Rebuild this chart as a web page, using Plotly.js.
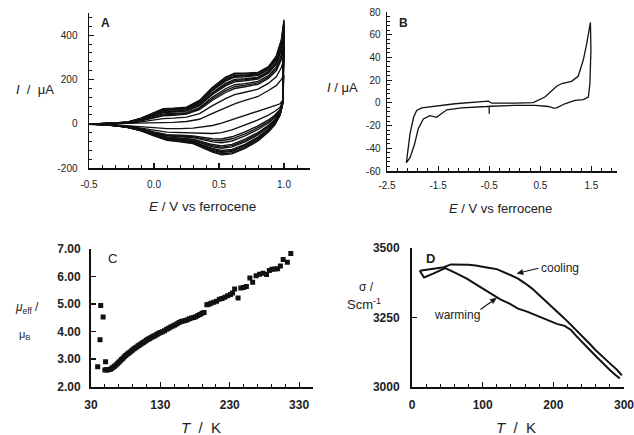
<!DOCTYPE html>
<html><head><meta charset="utf-8">
<script src="https://cdn.plot.ly/plotly-3.0.1.min.js"></script>
<style>html,body{margin:0;padding:0;background:#fff}#chart{width:634px;height:435px}</style>
</head><body><div id="chart"></div>
<script>
// ---------- Panel A: multi-cycle CV (E / V vs ferrocene, I / uA) ----------
const E_A = [-0.5,-0.4,-0.3,-0.2,-0.1,0.0,0.07,0.15,0.25,0.35,0.45,0.55,0.62,0.7,0.8,0.88,0.94,0.98,1.0,
             0.99,0.97,0.93,0.88,0.8,0.7,0.6,0.52,0.45,0.37,0.3,0.2,0.1,0.0,-0.1,-0.2,-0.3,-0.4,-0.5];
const cyc01 = [-2,-1,0,0,1,3,4,6,10,20,47,72,90,105,123,150,172,200,220, 105,90,82,72,58,38,18,3,-8,-16,-20,-22,-22,-18,-13,-9,-6,-4,-3];
const cyc02 = [-2,-1,1,2,8,17,23,25,30,46,82,113,131,142,156,182,212,254,295, 100,74,56,39,17,-7,-28,-40,-44,-43,-41,-40,-38,-29,-19,-11,-7,-4,-3];
const cyc03 = [-2,-1,1,4,13,27,36,38,43,63,106,141,159,167,178,204,239,290,345, 98,64,39,17,-10,-37,-59,-69,-68,-61,-55,-52,-49,-37,-23,-13,-7,-4,-3];
const cyc04 = [-2,0,1,4,14,29,40,42,46,68,113,149,167,174,184,210,246,301,360, 97,61,33,10,-18,-46,-68,-77,-75,-66,-59,-56,-52,-39,-24,-13,-7,-4,-2];
const cyc05 = [-2,0,1,5,16,32,44,46,50,73,120,158,176,181,191,217,255,312,375, 96,58,28,4,-26,-55,-78,-86,-82,-72,-63,-59,-55,-41,-25,-14,-7,-4,-2];
const cyc06 = [-2,0,1,6,18,37,50,52,57,81,132,171,189,194,202,228,268,330,400, 94,53,19,-7,-40,-70,-93,-100,-94,-81,-70,-65,-60,-45,-27,-15,-7,-4,-2];
const cyc07 = [-2,0,2,6,19,39,53,55,59,85,137,177,195,199,206,232,273,337,410, 94,50,16,-12,-45,-76,-99,-106,-99,-84,-73,-68,-62,-46,-27,-15,-8,-4,-2];
const cyc08 = [-2,0,2,6,20,41,55,57,62,88,141,182,200,203,210,236,278,344,420, 93,48,12,-16,-51,-82,-105,-111,-104,-88,-76,-70,-64,-48,-28,-15,-8,-4,-2];
const cyc09 = [-2,0,2,7,22,44,60,62,67,94,150,192,210,212,218,244,288,357,438, 92,45,6,-24,-60,-93,-116,-121,-112,-94,-81,-74,-68,-50,-30,-16,-8,-4,-2];
const cyc10 = [-2,0,2,7,23,45,62,64,69,97,153,196,214,216,221,247,292,362,445, 92,43,4,-27,-64,-97,-121,-126,-116,-97,-83,-76,-70,-51,-30,-16,-8,-4,-2];
const cyc11 = [-2,0,2,7,23,47,64,66,71,99,157,200,218,219,224,250,296,367,453, 91,42,1,-30,-69,-102,-125,-130,-120,-100,-85,-78,-71,-52,-31,-16,-8,-4,-2];
const cyc12 = [-2,0,2,8,24,49,66,68,73,103,162,206,224,224,229,255,301,375,463, 90,40,-2,-35,-74,-108,-131,-136,-124,-103,-88,-80,-73,-54,-31,-17,-8,-4,-2];
const cyc13 = [-2,0,2,8,25,50,68,70,75,105,165,210,228,228,232,258,305,380,470, 90,38,-5,-38,-78,-112,-136,-140,-128,-106,-90,-82,-75,-55,-32,-17,-8,-4,-2];
const cyclesA = [cyc01,cyc02,cyc03,cyc04,cyc05,cyc06,cyc07,cyc08,cyc09,cyc10,cyc11,cyc12,cyc13];
const tickA_x = [-0.5,0,0.5,1.0], tickA_xt = ['-0.5','0.0','0.5','1.0'];
const tickA_y = [-200,0,200,400], tickA_yt = ['-200','0','200','400'];

// ---------- Panel B: single CV ----------
const E_B = [-0.50,-0.50,-0.55,-1.04,-1.33,-1.43,-1.53,-1.66,-1.79,-1.89,-1.96,-2.05,-2.12,-2.10,-2.05,-1.98,-1.92,-1.82,-1.56,-1.17,-0.52,-0.45,0.0,0.36,0.59,0.82,0.92,1.11,1.24,1.34,1.41,1.47,1.48,1.49,1.47,1.44,1.34,1.18,0.98,0.82,0.76,0.66,0.40,0.0,-0.45,-0.50];
const I_B = [-9.5,-3.0,-3.2,-4.4,-6.1,-9.7,-12.7,-11.2,-14.1,-23.0,-36.3,-48.2,-52.7,-45.2,-27.4,-12.7,-6.7,-4.4,-3.2,-0.8,1.5,-0.3,-0.2,0.2,5.1,14.6,17.0,19.0,23.4,37.7,52.5,69.6,70.8,46.5,17.0,5.1,2.8,2.1,-0.8,-4.4,-4.7,-3.2,-2.3,-2.3,-2.6,-3.0];
const tickB_x = [-2.5,-1.5,-0.5,0.5,1.5], tickB_xt = ['-2.5','-1.5','-0.5','0.5','1.5'];
const tickB_y = [-60,-40,-20,0,20,40,60,80], tickB_yt = ['-60','-40','-20','0','20','40','60','80'];

// ---------- Panel C: mu_eff vs T ----------
const T_C = [39.6,43,44,47.5,51,
  50,52,54,56,58,60,62,64,66,68,70,72,74,76,78,80,82,84,86,88,90,92,94,96,98,100,102,104,106,108,110,112,114,116,118,120,122,124,126,128,130,
  133,136,139,142,145,148,151,154,157,160,163,166,169,172,175,178,181,184,187,190,193,
  197,200,203,207,211,215,219,223,227,231,234,237,242,246,250,254,259,263,268,273,278,283,287,291,295,299,303,307,313,318];
const MU_C = [2.72,3.70,4.95,4.53,2.90,
  2.60,2.61,2.60,2.62,2.63,2.66,2.70,2.74,2.78,2.83,2.88,2.93,2.98,3.03,3.08,3.13,3.17,3.21,3.25,3.29,3.33,3.37,3.41,3.44,3.48,3.51,3.55,3.58,3.61,3.65,3.68,3.72,3.74,3.77,3.80,3.83,3.85,3.88,3.91,3.94,3.96,
  3.99,4.03,4.08,4.12,4.16,4.20,4.24,4.28,4.33,4.36,4.38,4.40,4.43,4.46,4.49,4.51,4.54,4.58,4.62,4.66,4.69,
  4.97,4.99,5.03,5.06,5.10,5.17,5.20,5.25,5.30,5.35,5.40,5.55,5.22,5.58,5.60,5.64,5.95,5.79,6.03,6.08,6.12,6.07,6.22,6.26,6.27,6.28,6.38,6.62,6.52,6.84];

// ---------- Panel D: sigma vs T ----------
const T_cool = [297,290,280,270,260,250,240,230,220,210,200,190,180,170,160,150,140,130,120,110,100,90,80,70,60,55,45,30,11];
const S_cool = [3042,3062,3085,3108,3132,3159,3185,3212,3236,3260,3283,3307,3331,3354,3373,3390,3402,3414,3424,3428,3433,3437,3440,3441,3442,3441,3431,3425,3418];
const T_warm = [11,17,30,47,60,77,90,110,125,138,150,162,175,185,195,205,216,225,233,242,252,261,270,280,288,294];
const S_warm = [3418,3394,3408,3428,3412,3391,3370,3337,3315,3300,3282,3272,3258,3247,3235,3227,3220,3205,3182,3157,3132,3109,3085,3061,3043,3031];
const tickD_x = [0,100,200,300], tickD_xt = ['0','100','200','300'];

// ---------- layout helpers ----------
const W = 634, H = 435;
const fx = p => p / W, fy = p => 1 - p / H;
const FONT = "Liberation Sans, Arial, sans-serif";

const traces = [];
cyclesA.forEach(c => traces.push({x: E_A, y: c, xaxis:'x', yaxis:'y', mode:'lines', line:{color:'#111', width:1.35}}));
traces.push({x: E_B, y: I_B, xaxis:'x2', yaxis:'y2', mode:'lines', line:{color:'#111', width:1.3}});
traces.push({x: T_C, y: MU_C, xaxis:'x3', yaxis:'y3', mode:'markers', marker:{symbol:'square', size:5, color:'#111'}});
traces.push({x: T_cool, y: S_cool, xaxis:'x4', yaxis:'y4', mode:'lines', line:{color:'#111', width:2}});
traces.push({x: T_warm, y: S_warm, xaxis:'x4', yaxis:'y4', mode:'lines', line:{color:'#111', width:2}});

function ax(o) {
  const a = {
    showline:true, linecolor:'#111', linewidth:o.lw || 1.5, showgrid:false, zeroline:false,
    ticks:'inside', ticklen:o.tl || 5, tickwidth:o.tw || 1.2, tickcolor:'#111',
    tickfont:{family:FONT, size:o.fs || 10, color:'#222', weight:o.bold ? 'bold' : 'normal'},
    range:o.range, domain:o.domain, anchor:o.anchor, fixedrange:true, ticklabelstandoff:o.so || 2,
    ticklabeloverflow:'allow', automargin:false
  };
  if (o.vals) { a.tickmode = 'array'; a.tickvals = o.vals; a.ticktext = o.text; }
  else { a.tick0 = o.tick0; a.dtick = o.dtick; a.tickformat = o.fmt || ''; }
  if (o.minor) a.minor = {tick0:o.mtick0, dtick:o.minor, ticks:'inside', ticklen:3, tickwidth:1, tickcolor:'#111', showgrid:false};
  return a;
}

const layout = {
  width: W, height: H, margin:{l:0, r:0, t:0, b:0}, showlegend:false,
  paper_bgcolor:'#fff', plot_bgcolor:'rgba(0,0,0,0)',
  xaxis:  ax({domain:[fx(89), fx(310)], range:[-0.5,1.2], anchor:'y', vals:tickA_x, text:tickA_xt, mtick0:-0.5, minor:0.1, so:6}),
  yaxis:  ax({domain:[fy(168), fy(13)], range:[-200,500], anchor:'x', vals:tickA_y, text:tickA_yt, mtick0:-200, minor:40, so:8}),
  xaxis2: ax({domain:[fx(387), fx(617)], range:[-2.5,2.0], anchor:'y2', vals:tickB_x, text:tickB_xt, mtick0:-2.5, minor:0.2, so:4}),
  yaxis2: ax({domain:[fy(171), fy(12)], range:[-60,80], anchor:'x2', vals:tickB_y, text:tickB_yt, mtick0:-60, minor:4, so:3}),
  xaxis3: ax({domain:[fx(91), fx(313)], range:[30,350], anchor:'y3', tick0:30, dtick:100, mtick0:30, minor:20, lw:2, fs:12, bold:true, so:6}),
  yaxis3: ax({domain:[fy(386.5), fy(249)], range:[2,7], anchor:'x3', tick0:2, dtick:1, fmt:'.2f', lw:2, fs:12, bold:true, so:6}),
  xaxis4: ax({domain:[fx(412), fx(624)], range:[0,300], anchor:'y4', vals:tickD_x, text:tickD_xt, mtick0:0, minor:20, lw:2, fs:12, bold:true, so:6}),
  yaxis4: ax({domain:[fy(387), fy(248)], range:[3000,3500], anchor:'x4', tick0:3000, dtick:250, lw:2, fs:12, bold:true, so:8}),
  annotations: [], shapes: []
};

function note(text, px, py, size) {
  layout.annotations.push({
    text, x: fx(px), y: fy(py), xref:'paper', yref:'paper', showarrow:false,
    xanchor:'center', yanchor:'middle', font:{family:FONT, size, color:'#222'}
  });
}
note('<b>A</b>', 106, 23, 12);
note('<b>B</b>', 403, 23, 12);
note('C', 112, 258.5, 13);
note('<b>D</b>', 430, 258.5, 13);
note('<i>I</i>  /  μA', 35, 90, 13);
note('<i>E</i> / V vs ferrocene', 202, 206, 13.5);
note('<i>I</i> / μA', 342.5, 87.5, 13);
note('<i>E</i> / V vs ferrocene', 500, 208, 13);
note('<i>μ</i><sub>eff</sub> /', 27, 308, 12);
note('μ<sub>B</sub>', 24, 335, 11);
note('<i>T</i>  /  K', 201, 427, 15);
note('σ /', 367, 287, 12);
note('Scm<sup>-1</sup>', 364, 304, 13);
note('<i>T</i>  /  K', 516, 427, 15);
note('cooling', 559.5, 267.5, 12);
note('warming', 457.5, 315, 12);

// arrows drawn as shapes (line + filled head), in pixel space converted to paper
function arrow(x0, y0, x1, y1) {
  const dx = x1 - x0, dy = y1 - y0, L = Math.hypot(dx, dy), ux = dx / L, uy = dy / L;
  const hl = 6, hw = 2.6;
  const bx = x1 - ux * hl, by = y1 - uy * hl;
  layout.shapes.push({type:'line', xref:'paper', yref:'paper', x0:fx(x0), y0:fy(y0), x1:fx(bx), y1:fy(by), line:{color:'#111', width:1.1}});
  const p1 = [bx - uy * hw, by + ux * hw], p2 = [bx + uy * hw, by - ux * hw];
  layout.shapes.push({type:'path', xref:'paper', yref:'paper',
    path:`M ${fx(x1)} ${fy(y1)} L ${fx(p1[0])} ${fy(p1[1])} L ${fx(p2[0])} ${fy(p2[1])} Z`,
    fillcolor:'#111', line:{color:'#111', width:0.5}});
}
arrow(538.5, 268.3, 517, 273.5);
arrow(480.5, 309.5, 496.5, 298);

Plotly.newPlot('chart', traces, layout, {staticPlot:true, displayModeBar:false});
</script></body></html>
